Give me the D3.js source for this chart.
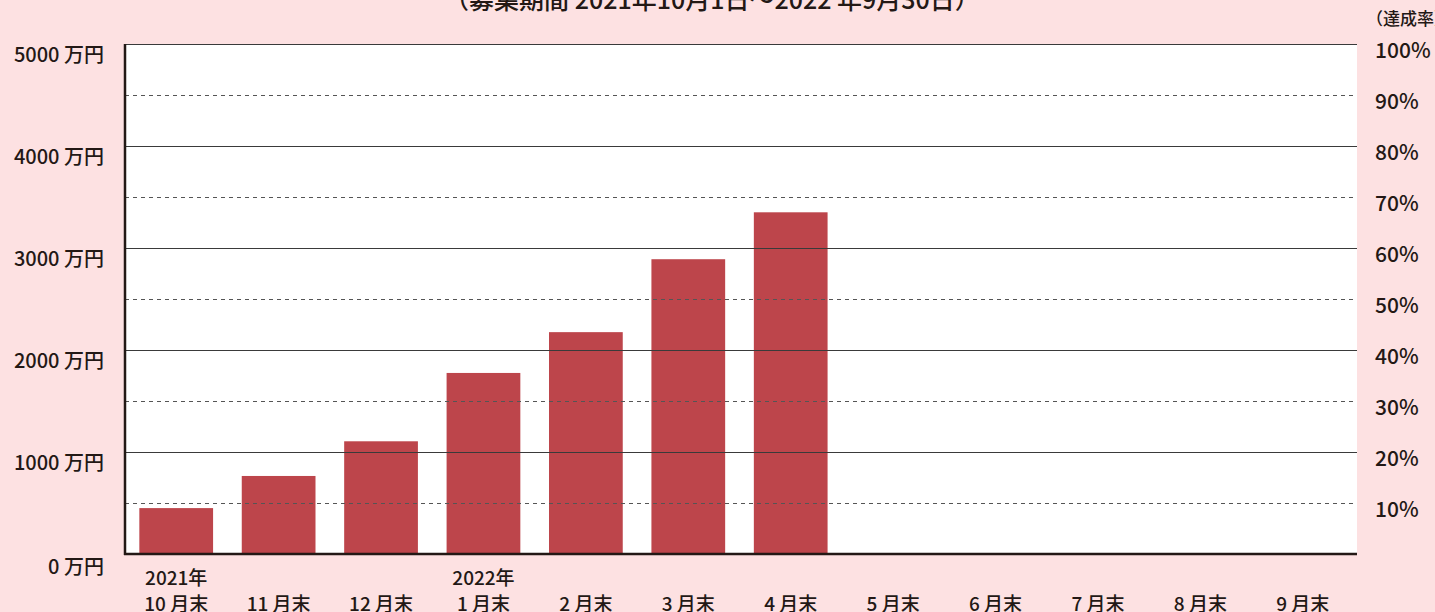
<!DOCTYPE html>
<html>
<head>
<meta charset="utf-8">
<script src="https://cdn.jsdelivr.net/npm/d3@7"></script>
<style>
  body { margin: 0; background: #fde1e2; }
  svg text { font-family: "Noto Sans CJK JP", "Noto Sans", sans-serif; fill: #231815; font-weight: 500; }
</style>
</head>
<body>
<svg width="1435" height="612"></svg>
<script>
// month labels (two lines where a year is shown)
const months = ["10月末", "11月末", "12月末", "1月末", "2月末", "3月末", "4月末", "5月末", "6月末", "7月末", "8月末", "9月末"];
const monthLabels = [["2021年", "10 月末"], ["11 月末"], ["12 月末"], ["2022年", "1 月末"], ["2 月末"], ["3 月末"], ["4 月末"], ["5 月末"], ["6 月末"], ["7 月末"], ["8 月末"], ["9 月末"]];
// amounts raised (万円), months without data are left out
const amounts = [450, 765, 1105, 1775, 2175, 2890, 3350];
const leftTicks = [0, 1000, 2000, 3000, 4000, 5000];
const rightTicks = [10, 20, 30, 40, 50, 60, 70, 80, 90, 100];
const goal = 5000;

const svg = d3.select("svg");
const margin = { left: 125, right: 78, top: 44, bottom: 58 };
const W = +svg.attr("width"), H = +svg.attr("height");

const x = d3.scaleBand().domain(months).range([margin.left, W - margin.right - 3]).paddingInner(0.28).paddingOuter(0.14);
const y = d3.scaleLinear().domain([0, goal]).range([H - margin.bottom, margin.top]);
const yPct = d3.scaleLinear().domain([0, 100]).range([H - margin.bottom, margin.top]);

// plot background
svg.append("rect")
  .attr("x", margin.left).attr("y", margin.top)
  .attr("width", W - margin.right - margin.left)
  .attr("height", H - margin.bottom - margin.top)
  .attr("fill", "#fff");

// bars
svg.append("g").selectAll("rect")
  .data(amounts)
  .join("rect")
  .attr("x", (d, i) => x(months[i]))
  .attr("y", d => y(d))
  .attr("width", x.bandwidth())
  .attr("height", d => y(0) - y(d))
  .attr("fill", "#bd454b");

// grid: solid at 1000s, dashed at halves
const grid = svg.append("g");
grid.selectAll("line.solid")
  .data(leftTicks.filter(d => d > 0))
  .join("line")
  .attr("class", "solid")
  .attr("x1", margin.left).attr("x2", W - margin.right)
  .attr("y1", d => Math.round(y(d)) + 0.5).attr("y2", d => Math.round(y(d)) + 0.5)
  .attr("stroke", "#3a3a3a").attr("stroke-width", 1.2);
grid.selectAll("line.dash")
  .data(rightTicks.filter(d => d % 20 !== 0))
  .join("line")
  .attr("class", "dash")
  .attr("x1", margin.left).attr("x2", W - margin.right)
  .attr("y1", d => Math.round(yPct(d)) + 0.5).attr("y2", d => Math.round(yPct(d)) + 0.5)
  .attr("stroke", "#555").attr("stroke-width", 1)
  .attr("stroke-dasharray", "4,4");

// axes lines
svg.append("line")
  .attr("x1", margin.left).attr("x2", margin.left)
  .attr("y1", margin.top).attr("y2", y(0) + 1)
  .attr("stroke", "#231815").attr("stroke-width", 2.5);
svg.append("line")
  .attr("x1", margin.left - 1).attr("x2", W - margin.right)
  .attr("y1", y(0)).attr("y2", y(0))
  .attr("stroke", "#231815").attr("stroke-width", 2.5);

// left axis labels
svg.append("g").selectAll("text")
  .data(leftTicks)
  .join("text")
  .attr("x", 104)
  .attr("y", d => y(d) + (d === 0 ? 20 : 18))
  .attr("text-anchor", "end")
  .attr("font-size", 20)
  .text(d => d + " 万円");

// right axis labels
svg.append("g").selectAll("text")
  .data(rightTicks)
  .join("text")
  .attr("x", 1375)
  .attr("y", d => yPct(d) + 14)
  .attr("font-size", 21)
  .text(d => d + "%");

svg.append("text")
  .attr("x", 1366).attr("y", 25)
  .attr("font-size", 17)
  .text("（達成率）");

// x labels
const xl = svg.append("g").selectAll("text")
  .data(monthLabels)
  .join("text")
  .attr("text-anchor", "middle")
  .attr("font-size", 19)
  .attr("transform", (d, i) => `translate(${x(months[i]) + x.bandwidth() / 2},0)`);
xl.selectAll("tspan")
  .data(d => d.length === 2 ? d : [null, d[0]])
  .join("tspan")
  .attr("x", 0)
  .attr("y", (d, j) => j === 0 ? 585 : 611)
  .text(d => d || "");

// title (cut off at the top)
svg.append("text")
  .attr("x", 712).attr("y", 9)
  .attr("text-anchor", "middle")
  .attr("font-size", 25)
  .text("（募集期間 2021年10月1日〜2022 年9月30日）");
</script>
</body>
</html>
